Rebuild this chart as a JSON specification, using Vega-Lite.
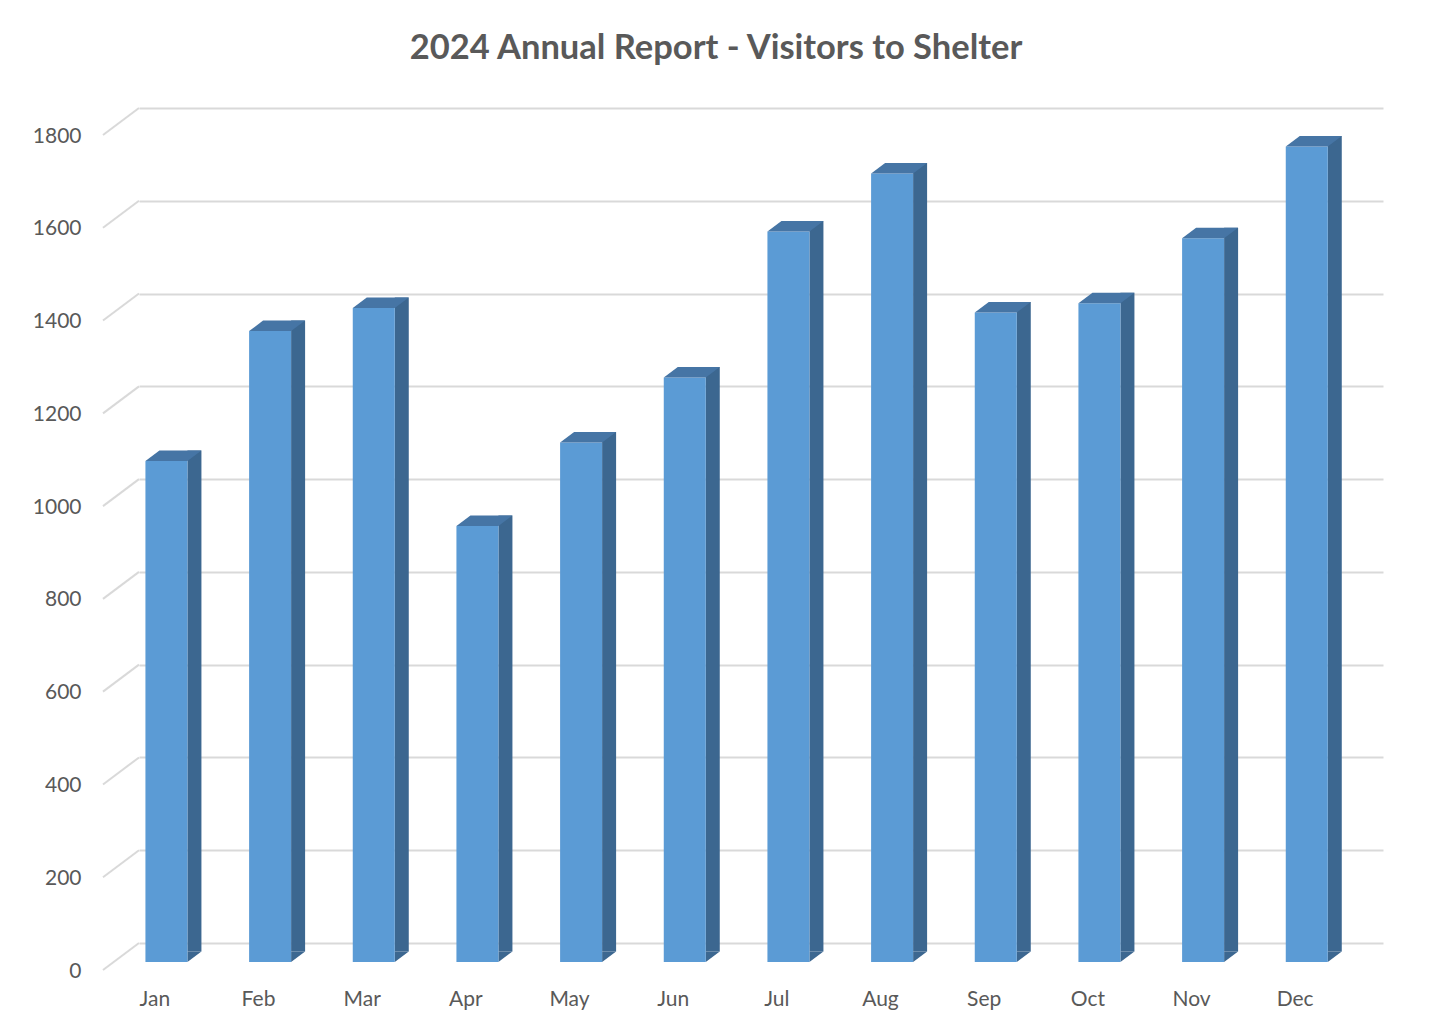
{
  "$schema": "https://vega.github.io/schema/vega-lite/v6.json",
  "width": 1244,
  "height": 835,
  "autosize": {"type": "none"},
  "padding": {"left": 139, "top": 108, "right": 49, "bottom": 91},
  "background": "white",
  "title": {
    "text": "2024 Annual Report - Visitors to Shelter",
    "font": "Lato",
    "fontSize": 34.5,
    "fontWeight": "bold",
    "color": "#595959",
    "anchor": "middle",
    "baseline": "alphabetic",
    "offset": 11,
    "dx": -45
  },
  "config": {
    "view": {"stroke": null},
    "font": "Lato"
  },
  "datasets": {
    "visits": [
      {"month": "Jan", "visitors": 1080},
      {"month": "Feb", "visitors": 1360},
      {"month": "Mar", "visitors": 1410},
      {"month": "Apr", "visitors": 940},
      {"month": "May", "visitors": 1120},
      {"month": "Jun", "visitors": 1260},
      {"month": "Jul", "visitors": 1575},
      {"month": "Aug", "visitors": 1700},
      {"month": "Sep", "visitors": 1400},
      {"month": "Oct", "visitors": 1420},
      {"month": "Nov", "visitors": 1560},
      {"month": "Dec", "visitors": 1758}
    ],
    "grid": [
      {"v": 0}, {"v": 200}, {"v": 400}, {"v": 600}, {"v": 800},
      {"v": 1000}, {"v": 1200}, {"v": 1400}, {"v": 1600}, {"v": 1800}
    ]
  },
  "layer": [
    {
      "data": {"name": "grid"},
      "mark": {"type": "point", "shape": "M0,0 L-36,27", "size": 4, "filled": false, "stroke": "#D9D9D9", "strokeWidth": 2, "opacity": 1},
      "encoding": {
        "x": {"datum": "Jan", "type": "nominal", "bandPosition": 0},
        "y": {"field": "v", "type": "quantitative"}
      }
    },
    {
      "data": {"name": "visits"},
      "mark": {"type": "bar", "width": 14, "xOffset": 3.6, "yOffset": 8.5, "y2Offset": 8.5, "color": "#3C6790", "opacity": 1},
      "encoding": {
        "x": {"field": "month", "type": "nominal"},
        "y": {"field": "visitors", "type": "quantitative"}
      }
    },
    {
      "data": {"name": "visits"},
      "mark": {"type": "point", "shape": "M21,0 L35,-10.5 L21,-10.5 Z", "size": 4, "filled": true, "color": "#3C6790", "strokeWidth": 0, "opacity": 1, "xOffset": -24.4, "yOffset": 19},
      "encoding": {
        "x": {"field": "month", "type": "nominal"},
        "y": {"datum": 0, "type": "quantitative"}
      }
    },
    {
      "data": {"name": "visits"},
      "mark": {"type": "bar", "width": 42, "xOffset": -24.4, "yOffset": 19, "y2Offset": 19, "color": "#5B9BD5", "opacity": 1},
      "encoding": {
        "x": {
          "field": "month",
          "type": "nominal",
          "scale": {"domain": ["Jan", "Feb", "Mar", "Apr", "May", "Jun", "Jul", "Aug", "Sep", "Oct", "Nov", "Dec"], "paddingInner": 0, "paddingOuter": 0},
          "axis": {
            "title": null,
            "labelAngle": 0,
            "labelAlign": "center",
            "labelFont": "Lato",
            "labelFontSize": 21,
            "labelColor": "#595959",
            "labelOffset": -36,
            "labelPadding": 56,
            "ticks": false,
            "domain": false,
            "grid": false
          }
        },
        "y": {
          "field": "visitors",
          "type": "quantitative",
          "scale": {"domain": [0, 1800], "nice": false, "zero": true},
          "axis": {
            "title": null,
            "format": "d",
            "values": [0, 200, 400, 600, 800, 1000, 1200, 1400, 1600, 1800],
            "labelFont": "Lato",
            "labelFontSize": 21,
            "labelColor": "#595959",
            "labelOffset": 28,
            "labelPadding": 58,
            "labelFlush": false,
            "labelOverlap": false,
            "ticks": false,
            "domain": false,
            "grid": true,
            "gridColor": "#D9D9D9",
            "gridWidth": 2
          }
        }
      }
    },
    {
      "data": {"name": "visits"},
      "mark": {"type": "point", "shape": "M-21,0 L21,0 L35,-10.5 L-7,-10.5 Z", "size": 4, "filled": true, "color": "#4675A5", "strokeWidth": 0, "opacity": 1, "xOffset": -24.4, "yOffset": 19},
      "encoding": {
        "x": {"field": "month", "type": "nominal"},
        "y": {"field": "visitors", "type": "quantitative"}
      }
    }
  ]
}
